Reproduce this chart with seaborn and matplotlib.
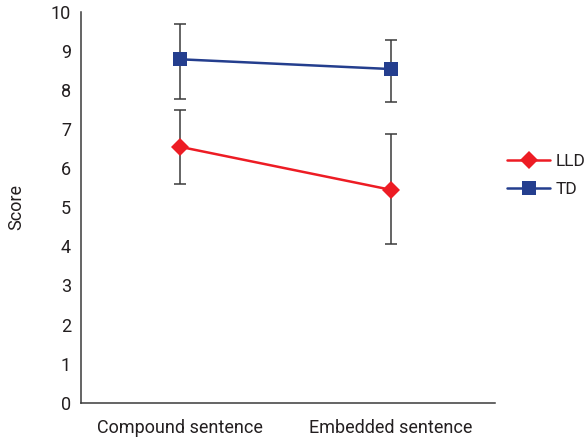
import matplotlib
matplotlib.use("Agg")
import matplotlib.pyplot as plt
import seaborn as sns
import pandas as pd
from matplotlib import font_manager

categories = ["Compound sentence", "Embedded sentence"]
groups = ["LLD", "TD"]
lld_mean = [6.55, 5.45]
lld_upper = [7.50, 6.88]
lld_lower = [5.61, 4.07]
td_mean = [8.79, 8.54]
td_upper = [9.69, 9.28]
td_lower = [7.78, 7.70]
yticks = list(range(0, 11))

sns.set_style("white")
avail = {f.name for f in font_manager.fontManager.ttflist}
fam = [f for f in ["Liberation Sans Narrow", "Roboto", "Open Sans", "DejaVu Sans"] if f in avail]
plt.rcParams['font.family'] = fam

df = pd.DataFrame({
    "category": categories * 2,
    "group": ["LLD"] * 2 + ["TD"] * 2,
    "score": lld_mean + td_mean,
})

colors = {"LLD": "#ED1C24", "TD": "#243E8E"}
markers = {"LLD": "D", "TD": "s"}
sizes = {"LLD": 9, "TD": 10}

fig = plt.figure(figsize=(5.85, 4.41), dpi=100)
ax = fig.add_axes([80.7 / 585, 1 - 402.7 / 441, (495 - 80.7) / 585, (402.7 - 12) / 441])

xpos = {c: i for i, c in enumerate(categories)}
err = {"LLD": (lld_mean, lld_lower, lld_upper), "TD": (td_mean, td_lower, td_upper)}
for g in groups:
    m, lo, hi = err[g]
    ax.errorbar([xpos[c] for c in categories], m,
                yerr=[[mm - l for mm, l in zip(m, lo)], [h - mm for mm, h in zip(m, hi)]],
                fmt="none", ecolor="#3a3a3a", elinewidth=1.1, capsize=4.5, capthick=1.1, zorder=2)

sns.lineplot(data=df, x="category", y="score", hue="group", style="group",
             palette=colors, markers=markers, dashes=False, linewidth=1.8,
             markeredgewidth=0, ax=ax, zorder=3, sort=False)
for g in groups:
    for line in ax.get_lines():
        if matplotlib.colors.to_hex(line.get_color()).lower() == colors[g].lower():
            line.set_markersize(sizes[g])

ax.set_xlim(-0.471, 1.495)
ax.set_ylim(0, 10)
ax.set_yticks(yticks)
ax.set_xticks([0, 1])
ax.set_xticklabels(categories)
ax.set_xlabel("")
ax.set_ylabel("Score", fontsize=13, color="#231f20", labelpad=18)

for s in ["top", "right"]:
    ax.spines[s].set_visible(False)
for s in ["left", "bottom"]:
    ax.spines[s].set_color("#3a3a3a")
    ax.spines[s].set_linewidth(1.1)
ax.tick_params(axis="both", direction="in", length=5, width=1.0, color="#3a3a3a",
               labelsize=13, labelcolor="#231f20")
ax.tick_params(axis="y", pad=7)
ax.tick_params(axis="x", pad=12)

handles, labels = ax.get_legend_handles_labels()
ax.legend(handles=handles, labels=labels, loc="center left", bbox_to_anchor=(507 / 585, 1 - 175.5 / 441),
          bbox_transform=fig.transFigure, frameon=False, fontsize=12.5, handlelength=2.5,
          handletextpad=0.3, labelspacing=0.7, borderaxespad=0, borderpad=0)
for t in ax.get_legend().get_texts():
    t.set_color("#231f20")

fig.savefig("out.png", dpi=100)
